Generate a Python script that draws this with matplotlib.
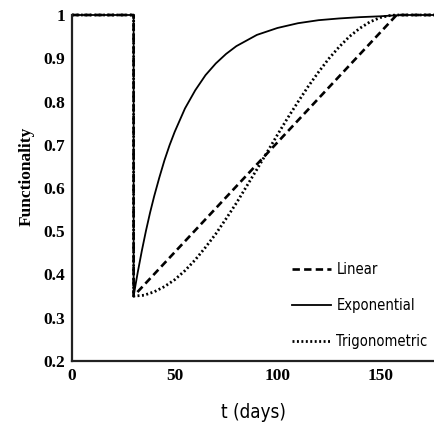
#!/usr/bin/env python3

import matplotlib
matplotlib.use('Agg')
import matplotlib.pyplot as plt

# values
t_lin = [0, 30, 30, 158, 180]
f_lin = [1.0, 1.0, 0.35, 1.0, 1.0]

t_exp = [0, 30, 30, 31, 32, 34, 36, 38, 40, 42.5, 45, 47.5, 50, 55, 60, 65,
         70, 75, 80, 90, 100, 110, 120, 130, 140, 150, 160, 180]
f_exp = [1.0, 1.0, 0.35, 0.378, 0.405, 0.455, 0.501, 0.543, 0.581, 0.624,
         0.664, 0.699, 0.730, 0.784, 0.826, 0.861, 0.888, 0.910, 0.928,
         0.954, 0.970, 0.981, 0.988, 0.992, 0.995, 0.997, 1.0, 1.0]

t_trig = [0, 30, 30, 35, 40, 45, 50, 55, 60, 65, 70, 75, 80, 85, 90, 95,
          100, 105, 110, 115, 120, 125, 130, 135, 140, 145, 150, 155, 158, 180]
f_trig = [1.0, 1.0, 0.35, 0.352, 0.360, 0.372, 0.388, 0.409, 0.434, 0.463,
          0.494, 0.529, 0.565, 0.604, 0.643, 0.683, 0.723, 0.762, 0.799,
          0.835, 0.868, 0.899, 0.926, 0.950, 0.969, 0.984, 0.994, 0.999,
          1.0, 1.0]

x_ticks = [0, 50, 100, 150]
y_ticks = [0.2, 0.3, 0.4, 0.5, 0.6, 0.7, 0.8, 0.9, 1.0]
y_tick_labels = ['0.2', '0.3', '0.4', '0.5', '0.6', '0.7', '0.8', '0.9', '1']

serif = ['Liberation Serif', 'DejaVu Serif']
narrow = ['DejaVu Sans']

fig = plt.figure(figsize=(4.35, 4.26), dpi=100)
ax = fig.add_axes([72 / 435, 65 / 426, 363 / 435, 346 / 426])

ax.plot(t_lin, f_lin, color='black', lw=1.9, linestyle=(0, (2.8, 1.6)),
        label='Linear', clip_on=False)
ax.plot(t_exp, f_exp, color='black', lw=1.3, label='Exponential',
        clip_on=False)
ax.plot(t_trig, f_trig, color='black', lw=2.0, linestyle=(0, (0.7, 0.9)),
        label='Trigonometric', clip_on=False)

ax.set_xlim(0, 176.7)
ax.set_ylim(0.2, 1.0)
ax.set_xticks(x_ticks)
ax.set_xticklabels([str(v) for v in x_ticks], fontfamily=serif,
                   fontweight='bold', fontsize=12.5)
ax.set_yticks(y_ticks)
ax.set_yticklabels(y_tick_labels, fontfamily=serif, fontweight='bold',
                   fontsize=12.5)
ax.tick_params(length=0, pad=5)

for s in ['top', 'right']:
    ax.spines[s].set_visible(False)
for s in ['left', 'bottom']:
    ax.spines[s].set_linewidth(1.6)
    ax.spines[s].set_color('#222222')

ax.set_ylabel('Functionality', fontfamily=serif, fontweight='bold',
              fontsize=12.5)
ax.yaxis.set_label_coords(-0.103, 0.535)
ax.set_xlabel('t (days)', fontfamily=narrow, fontstretch='condensed',
              fontsize=13.5, labelpad=14)

ax.legend(loc='upper left', bbox_to_anchor=(292 / 435, 1 - 262 / 426),
          bbox_transform=fig.transFigure, frameon=False, borderpad=0,
          borderaxespad=0, handlelength=2.7, handletextpad=0.35,
          labelspacing=1.45,
          prop={'family': narrow, 'stretch': 'condensed', 'size': 10.5})

fig.savefig('out.png', dpi=100)
